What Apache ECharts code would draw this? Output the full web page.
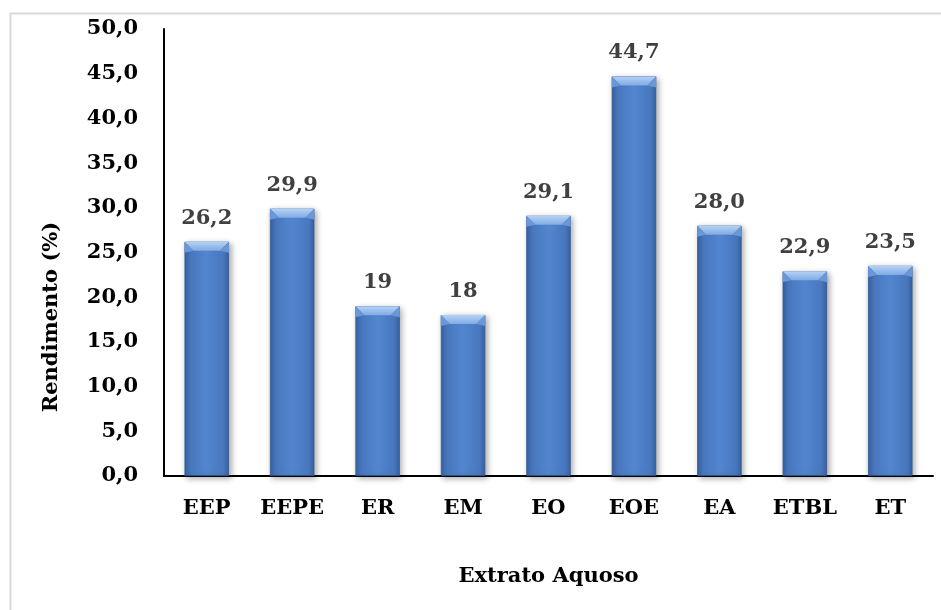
<!DOCTYPE html>
<html>
<head>
<meta charset="utf-8">
<script src="https://cdn.jsdelivr.net/npm/echarts@6/dist/echarts.min.js"></script>
<style>
  html, body { margin: 0; padding: 0; background: #fff; }
  #chart { width: 941px; height: 610px; }
</style>
</head>
<body>
<div id="chart"></div>
<script>
// Aqueous extract yield by sample
const categories = ['EEP', 'EEPE', 'ER', 'EM', 'EO', 'EOE', 'EA', 'ETBL', 'ET'];
const yieldValues = [26.2, 29.9, 19, 18, 29.1, 44.7, 28.0, 22.9, 23.5];
const valueLabels = ['26,2', '29,9', '19', '18', '29,1', '44,7', '28,0', '22,9', '23,5'];
const yTicks = { min: 0, max: 50, step: 5 };

const FONT = 'DejaVu Serif';

const chart = echarts.init(document.getElementById('chart'), null, { renderer: 'canvas' });

const barFill = new echarts.graphic.LinearGradient(0, 0, 1, 0, [
  { offset: 0, color: '#3761a3' },
  { offset: 0.12, color: '#4877bd' },
  { offset: 0.5, color: '#5186cf' },
  { offset: 0.88, color: '#4877bd' },
  { offset: 1, color: '#3761a3' }
]);

// Light bevel drawn on the top of each bar
function renderBevel(params, api) {
  const idx = api.value(0);
  const val = api.value(1);
  const top = api.coord([idx, val]);
  const bw = api.size([1, 0])[0] * 0.52;
  const x0 = top[0] - bw / 2;
  const x1 = top[0] + bw / 2;
  const y0 = top[1];
  const d = 9;
  return {
    type: 'group',
    children: [
      {
        type: 'polygon',
        shape: { points: [[x0, y0], [x1, y0], [x1 - d, y0 + d], [x0 + d, y0 + d]] },
        style: {
          fill: new echarts.graphic.LinearGradient(0, 0, 0, 1, [
            { offset: 0, color: '#b4d2f7' },
            { offset: 1, color: '#80abe4' }
          ])
        }
      },
      {
        type: 'polygon',
        shape: { points: [[x0, y0], [x0 + d, y0 + d], [x0, y0 + d + 2]] },
        style: { fill: '#6a97d6' }
      },
      {
        type: 'polygon',
        shape: { points: [[x1, y0], [x1 - d, y0 + d], [x1, y0 + d + 2]] },
        style: { fill: '#6a97d6' }
      }
    ]
  };
}

const option = {
  animation: false,
  backgroundColor: '#ffffff',
  graphic: [
    {
      type: 'rect',
      left: 8,
      top: 11,
      shape: { width: 1000, height: 1000 },
      style: { fill: 'none', stroke: '#d9d9d9', lineWidth: 2 },
      silent: true
    },
    {
      type: 'text',
      x: 52,
      y: 317,
      rotation: Math.PI / 2,
      style: {
        text: 'Rendimento (%)',
        fontFamily: FONT,
        fontWeight: 'bold',
        fontSize: 21,
        fill: '#000',
        align: 'center',
        verticalAlign: 'middle'
      },
      silent: true
    }
  ],
  grid: { left: 164, right: 8, top: 29, bottom: 134, containLabel: false },
  xAxis: {
    type: 'category',
    data: categories,
    name: 'Extrato Aquoso',
    nameLocation: 'middle',
    nameGap: 90,
    nameTextStyle: { fontFamily: FONT, fontWeight: 'bold', fontSize: 21, color: '#000' },
    axisLine: { lineStyle: { color: '#000', width: 2 } },
    axisTick: { show: false },
    axisLabel: { fontFamily: FONT, fontWeight: 'bold', fontSize: 21, color: '#000', margin: 22 }
  },
  yAxis: {
    type: 'value',
    min: yTicks.min,
    max: yTicks.max,
    interval: yTicks.step,
    axisLine: { show: true, lineStyle: { color: '#000', width: 2 } },
    axisTick: { show: false },
    splitLine: { show: false },
    axisLabel: {
      fontFamily: FONT, fontWeight: 'bold', fontSize: 21, color: '#000', margin: 26,
      formatter: v => v.toFixed(1).replace('.', ',')
    }
  },
  series: [
    {
      type: 'bar',
      data: yieldValues,
      barWidth: '52%',
      itemStyle: {
        color: barFill,
        borderColor: '#34598f',
        borderWidth: 0.8,
        shadowColor: 'rgba(0,0,0,0.35)',
        shadowBlur: 6,
        shadowOffsetX: 2,
        shadowOffsetY: 2
      },
      label: {
        show: true,
        position: 'top',
        distance: 13,
        fontFamily: FONT,
        fontWeight: 'bold',
        fontSize: 21,
        color: '#404040',
        formatter: p => valueLabels[p.dataIndex]
      }
    },
    {
      type: 'custom',
      renderItem: renderBevel,
      data: yieldValues.map((v, i) => [i, v]),
      silent: true,
      z: 3
    }
  ]
};

chart.setOption(option);
</script>
</body>
</html>
